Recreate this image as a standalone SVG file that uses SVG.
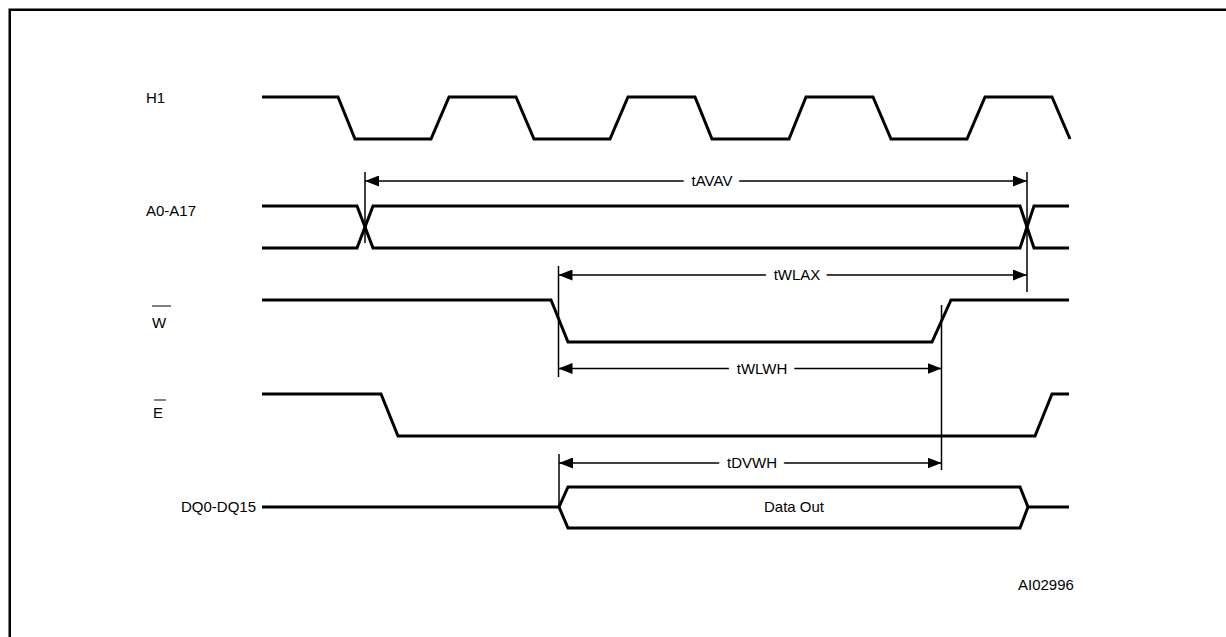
<svg xmlns="http://www.w3.org/2000/svg" width="1226" height="637" viewBox="0 0 1226 637">
<defs>
<style>
.sig{fill:none;stroke:#000;stroke-width:3;stroke-linejoin:miter}
.dim{fill:none;stroke:#000;stroke-width:1.5}
.lbl{font-family:"Liberation Sans",Arial,sans-serif;font-size:15px;fill:#000}
.t{font-family:"Liberation Sans",Arial,sans-serif;font-size:15px;fill:#000;text-anchor:middle;stroke:#fff;stroke-width:16;paint-order:stroke}
</style>
<marker id="ah" viewBox="0 0 14 11" refX="14" refY="5.5" markerWidth="14" markerHeight="11" markerUnits="userSpaceOnUse" orient="auto-start-reverse">
<path d="M0 0 L14 5.5 L0 11 Z" fill="#000"/>
</marker>
</defs>
<rect width="1226" height="637" fill="#fff"/>
<rect x="9.75" y="9.75" width="1400" height="800" fill="none" stroke="#000" stroke-width="2.5"/>

<g id="connectors">
<line class="dim" x1="365" y1="172" x2="365" y2="243"/>
<line class="dim" x1="1027" y1="172" x2="1027" y2="292"/>
<line class="dim" x1="558.5" y1="266" x2="558.5" y2="377"/>
<line class="dim" x1="941.5" y1="305" x2="941.5" y2="470"/>
<line class="dim" x1="559" y1="454" x2="559" y2="507"/>
<line class="dim" x1="365" y1="181" x2="1027" y2="181" marker-start="url(#ah)" marker-end="url(#ah)"/>
<line class="dim" x1="558.5" y1="275" x2="1027" y2="275" marker-start="url(#ah)" marker-end="url(#ah)"/>
<line class="dim" x1="558.5" y1="368.5" x2="941.5" y2="368.5" marker-start="url(#ah)" marker-end="url(#ah)"/>
<line class="dim" x1="559" y1="463" x2="941.5" y2="463" marker-start="url(#ah)" marker-end="url(#ah)"/>
<text class="t" x="712" y="186">tAVAV</text>
<text class="t" x="797" y="280">tWLAX</text>
<text class="t" x="762" y="373.5">tWLWH</text>
<text class="t" x="752" y="468">tDVWH</text>
</g>

<g id="H1">
<text class="lbl" x="146" y="103">H1</text>
<path class="sig" d="M262 97 H338 L355 139 H431 L449 97 H516 L534 139 H610 L628 97 H695 L712 139 H789 L806 97 H873 L891 139 H967 L985 97 H1052 L1070 139"/>
</g>

<g id="A0-A17">
<text class="lbl" x="146" y="216">A0-A17</text>
<path class="sig" d="M262 206 H357 L373 248 H1020 L1034 206 H1069"/>
<path class="sig" d="M262 248 H357 L373 206 H1020 L1034 248 H1069"/>
</g>

<g id="W">
<text class="lbl" x="152" y="328">W</text>
<line x1="152" y1="306" x2="171" y2="306" stroke="#000" stroke-width="1"/>
<path class="sig" d="M262 300 H551 L568 342 H932 L951 300 H1069"/>
</g>

<g id="E">
<text class="lbl" x="153" y="418">E</text>
<line x1="154" y1="400" x2="166" y2="400" stroke="#000" stroke-width="1"/>
<path class="sig" d="M262 394 H381 L398 436 H1035 L1052 394 H1069"/>
</g>

<g id="DQ0-DQ15">
<text class="lbl" x="256" y="512" text-anchor="end">DQ0-DQ15</text>
<path class="sig" d="M262 507 H559 L568 487 H1020 L1028 507 H1069"/>
<path class="sig" d="M559 507 L568 528 H1020 L1028 507"/>
<text class="lbl" x="794" y="512" text-anchor="middle">Data Out</text>
</g>

<g id="ref">
<text class="lbl" x="1018" y="590">AI02996</text>
</g>
</svg>
